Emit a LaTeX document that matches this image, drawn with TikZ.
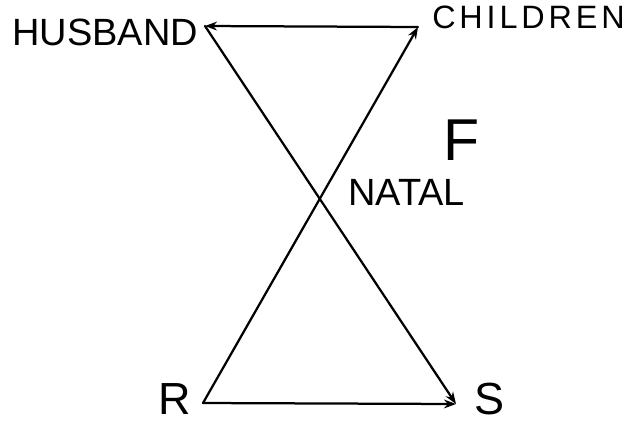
\documentclass[tikz,border=0pt]{standalone}
\usepackage{fontspec}
\setmainfont{Liberation Sans}
\usetikzlibrary{arrows.meta}
\tikzset{
  kinline/.style={line width=1.6pt,line cap=round},
  kinflow/.style={kinline,-{Stealth[length=3mm,width=2.2mm]}},
  kinlabel/.style={inner sep=0pt,anchor=base west}
}

\begin{document}
\begin{tikzpicture}[x=0.025cm,y=-0.025cm]
  \useasboundingbox (0,0) rectangle (635,423);

  % corners of the hourglass
  \coordinate (husbandpt) at (205,26);
  \coordinate (childrenpt) at (418,27);
  \coordinate (rpt) at (203,403);
  \coordinate (spt) at (456,404);

  \node[kinlabel,font=\fontsize{27}{30}\selectfont] (husband) at (12,45) {HUSBAND};
  \node[kinlabel,font=\fontsize{23}{26}\selectfont\addfontfeature{LetterSpace=12}] (children) at (432,28) {CHILDREN};
  \node[kinlabel,font=\fontsize{27}{30}\selectfont] (natal) at (348,205) {NATAL};
  \node[kinlabel,font=\fontsize{42}{46}\selectfont] (fam) at (443,160) {F};
  \node[kinlabel,font=\fontsize{32}{36}\selectfont] (rlab) at (158,414) {R};
  \node[kinlabel,font=\fontsize{32}{36}\selectfont] (slab) at (474,414) {S};

  \draw[kinflow] (childrenpt) -- (husbandpt);
  \draw[kinflow] (rpt) -- (childrenpt);
  \draw[kinflow] (husbandpt) -- (spt);
  \draw[kinflow] (rpt) -- (spt);
\end{tikzpicture}
\end{document}
